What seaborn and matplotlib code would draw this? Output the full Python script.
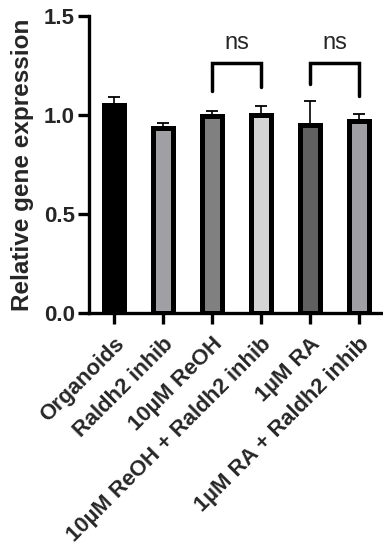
import numpy as np
import pandas as pd
import matplotlib
matplotlib.use("Agg")
import matplotlib.pyplot as plt
import seaborn as sns

groups = ["Organoids", "Raldh2 inhib", "10µM ReOH", "10µM ReOH + Raldh2 inhib",
          "1µM RA", "1µM RA + Raldh2 inhib"]
means = [1.048, 0.932, 0.996, 0.998, 0.95, 0.971]
sem = [0.04, 0.028, 0.024, 0.049, 0.118, 0.032]
colors = ["#000000", "#A0A0A4", "#808080", "#D4D4D4", "#606060", "#A0A0A4"]

# brackets: (left bar, right bar, top, left leg end, right leg end)
brackets = [(2, 3, 1.264, 1.118, 1.143), (4, 5, 1.264, 1.157, 1.096)]

sns.set_style("white")
plt.rcParams['font.family'] = ['Liberation Sans', 'DejaVu Sans']

df = pd.DataFrame({"group": groups, "mean": means})

fig = plt.figure(figsize=(3.83, 5.46), dpi=100)
ax = fig.add_axes([0.232, 0.427, 0.768, 0.544])

sns.barplot(data=df, x="group", y="mean", hue="group", palette=colors,
            order=groups, hue_order=groups, legend=False, width=0.41,
            edgecolor="black", linewidth=3.6, ax=ax, zorder=2)

x = np.arange(len(groups))
ax.errorbar(x, means, yerr=[np.zeros(len(sem)), sem], fmt="none",
            ecolor="black", elinewidth=1.2, capsize=4.6, capthick=1.3, zorder=1)

for a, b, top, la, lb in brackets:
    ax.plot([a, a, b, b], [la, top, top, lb], color="black", lw=2.5,
            solid_joinstyle="miter", clip_on=False)
    ax.text((a + b) / 2, 1.335, "ns", ha="center", va="baseline", fontsize=17)

ax.set_xlim(-0.51, 5.49)
ax.set_ylim(0, 1.5)
ax.set_yticks([0.0, 0.5, 1.0, 1.5])
ax.set_yticklabels(["0.0", "0.5", "1.0", "1.5"], fontsize=16, fontweight="bold")
ax.set_xticks(x)
ax.set_xticklabels(groups, rotation=45, ha="right", rotation_mode="anchor",
                   fontsize=15.8, fontweight="bold")
ax.set_xlabel("")
ax.set_ylabel("Relative gene expression", fontsize=17.5, fontweight="bold", labelpad=7)

for side in ["top", "right"]:
    ax.spines[side].set_visible(False)
for side in ["left", "bottom"]:
    ax.spines[side].set_linewidth(2.4)
    ax.spines[side].set_color("black")
ax.tick_params(axis="both", direction="out", length=8, width=2.4, color="black",
               left=True, bottom=True)
ax.tick_params(axis="x", pad=7)
ax.tick_params(axis="y", pad=2)

fig.savefig("out.png", dpi=100)
